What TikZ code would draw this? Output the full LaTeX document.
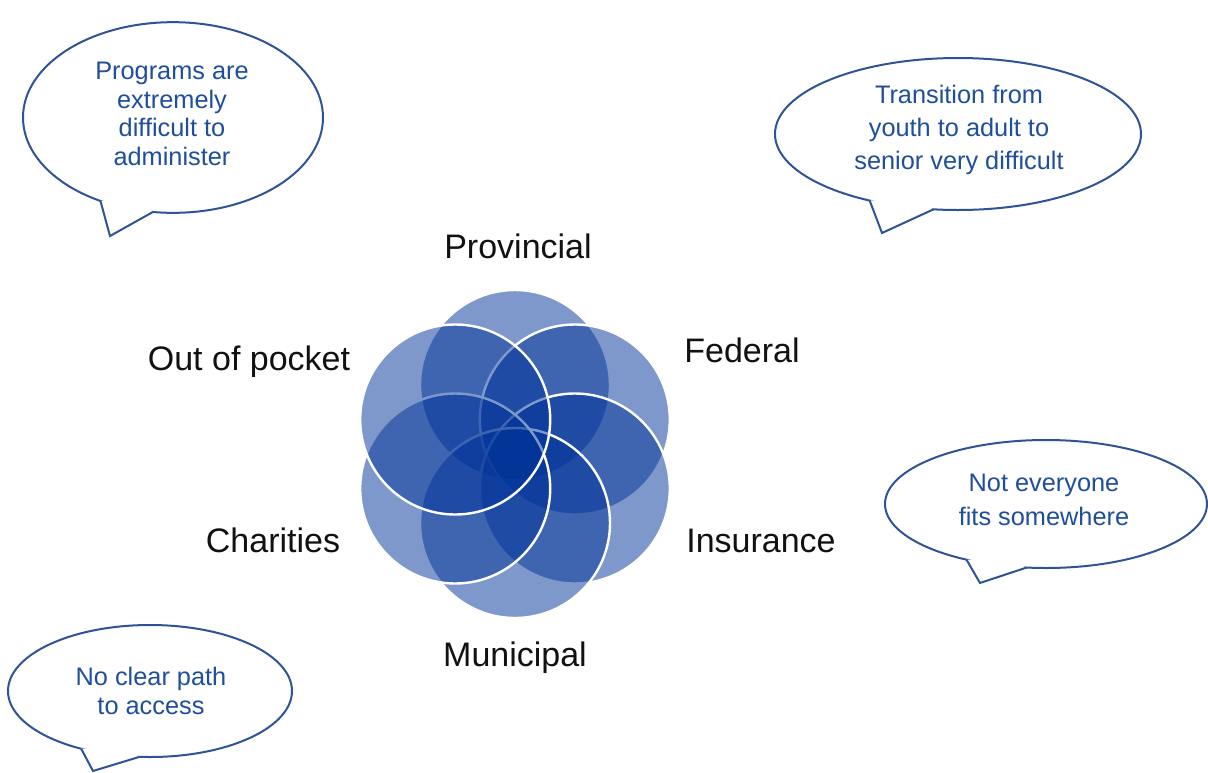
\documentclass[tikz,border=0pt]{standalone}
\usepackage{fontspec}
\setmainfont{Liberation Sans}
\usetikzlibrary{shapes.geometric,calc}
\definecolor{petalblue}{HTML}{003399}
\definecolor{bubbleline}{HTML}{2F5496}
\definecolor{bubbletext}{HTML}{1F4E9A}
\definecolor{labeltext}{HTML}{111111}
\begin{document}
\begin{tikzpicture}[x=0.75pt,y=-0.75pt,
  petal/.style={circle, minimum size=142.5pt, inner sep=0pt, outer sep=0pt,
    fill=petalblue, fill opacity=0.5, draw=white, draw opacity=1, line width=1.8pt},
  bubble/.style={ellipse, draw=bubbleline, line width=1.5pt, fill=white,
    inner sep=0pt, outer sep=0pt},
  tailfill/.style={fill=white},
  tailline/.style={draw=bubbleline, line width=1.5pt, line join=miter},
  btext/.style={text=bubbletext, align=center, inner sep=0pt},
  lbl/.style={text=labeltext, font=\fontsize{25.5}{30}\selectfont, anchor=base, inner sep=0pt}
]
\useasboundingbox[fill=white] (0,0) rectangle (1208,772);

% ---- overlapping circles (drawn clockwise from the top)
\node[petal] (P)  at (515,385)   {};
\node[petal] (F)  at (574.8,419.5) {};
\node[petal] (I)  at (574.8,488.5) {};
\node[petal] (M)  at (515,523)   {};
\node[petal] (Ch) at (455.2,488.5) {};
\node[petal] (O)  at (455.2,419.5) {};

% ---- labels
\node[lbl] (prov) at (518,258) {Provincial};
\node[lbl] (fed)  at (742,362) {Federal};
\node[lbl] (oop)  at (249,370) {Out of pocket};
\node[lbl] (char) at (273,552) {Charities};
\node[lbl] (ins)  at (761,552) {Insurance};
\node[lbl] (mun)  at (515,666) {Municipal};

% ---- speech bubbles
\node[bubble, minimum width=225pt, minimum height=143pt] (b1) at (173,117.5) {};
\coordinate (tip1) at (110,236);
\fill[tailfill] (b1.229) -- (tip1) -- (b1.258) -- ($(b1.243)!0.12!(b1.center)$) -- cycle;
\draw[tailline] (b1.229) -- (tip1) -- (b1.258);
\node[btext, font=\fontsize{19}{21.5}\selectfont] (t1) at (172,114)
  {Programs are\\extremely\\difficult to\\administer};

\node[bubble, minimum width=274.5pt, minimum height=114pt] (b2) at (958,134) {};
\coordinate (tip2) at (882,233);
\fill[tailfill] (b2.217) -- (tip2) -- (b2.252) -- ($(b2.235)!0.12!(b2.center)$) -- cycle;
\draw[tailline] (b2.217) -- (tip2) -- (b2.252);
\node[btext, font=\fontsize{19}{25}\selectfont] (t2) at (959,130)
  {Transition from\\youth to adult to\\senior very difficult};

\node[bubble, minimum width=241.5pt, minimum height=96pt] (b3) at (1046,504) {};
\coordinate (tip3) at (980,583);
\fill[tailfill] (b3.215) -- (tip3) -- (b3.253) -- ($(b3.234)!0.12!(b3.center)$) -- cycle;
\draw[tailline] (b3.215) -- (tip3) -- (b3.253);
\node[btext, font=\fontsize{19}{25}\selectfont] (t3) at (1044,500)
  {Not everyone\\fits somewhere};

\node[bubble, minimum width=213pt, minimum height=99pt] (b4) at (150,691) {};
\coordinate (tip4) at (93,771);
\fill[tailfill] (b4.220) -- (tip4) -- (b4.261) -- ($(b4.240)!0.12!(b4.center)$) -- cycle;
\draw[tailline] (b4.220) -- (tip4) -- (b4.261);
\node[btext, font=\fontsize{19}{21.5}\selectfont] (t4) at (151,691)
  {No clear path\\to access};
\end{tikzpicture}
\end{document}
